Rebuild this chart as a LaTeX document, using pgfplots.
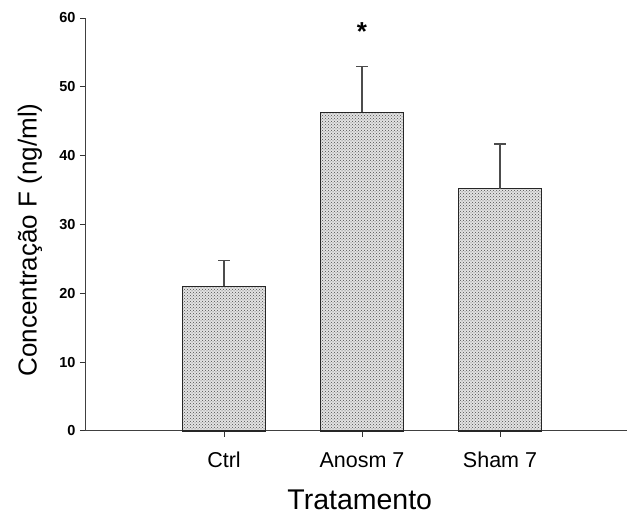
\documentclass[border=0pt]{standalone}
\usepackage{pgfplots}
\pgfplotsset{compat=1.18}
\usepackage{fontspec}
\setmainfont{Liberation Sans}
\usetikzlibrary{patterns}
\begin{document}
\begin{tikzpicture}
\path[use as bounding box] (-86pt,-88pt) rectangle (541pt,431pt);
\begin{axis}[
  scale only axis, width=541pt, height=413pt,
  at={(0,0)}, anchor=south west,
  xmin=0, xmax=3.92, ymin=0, ymax=60,
  axis x line=bottom, axis y line=left,
  axis line style={black!75, line width=1pt, -},
  xtick={1,2,3}, xticklabels={Ctrl,Anosm 7,Sham 7},
  ytick={0,10,...,60},
  tick align=outside, major tick length=6pt,
  tick style={black!80, line width=1pt},
  /pgf/number format/assume math mode=true,
  yticklabel style={font=\fontsize{14.5}{16}\selectfont\bfseries, xshift=-1pt},
  xticklabel style={font=\fontsize{21.5}{24}\selectfont, anchor=base, text height=16pt, text depth=5pt, yshift=-31pt},
  xlabel={Tratamento},
  ylabel={Concentração F (ng/ml)},
  xlabel style={font=\fontsize{28.5}{30}\selectfont, at={(axis description cs:0.506,-0.167)}, anchor=center},
  ylabel style={font=\fontsize{26}{28}\selectfont, at={(axis description cs:-0.1035,0.4625)}, anchor=center},
  clip=false,
]
\addplot[ybar, bar width=83pt, draw=black!85, line width=1.2pt,
  fill=gray!22, postaction={pattern=crosshatch dots, pattern color=black!70},
  error bars/.cd, y dir=plus, y explicit,
  error bar style={line width=1.2pt, black!70},
  error mark options={rotate=90, mark size=6pt, line width=1.2pt, black!70}]
  coordinates {(1,21.0) +- (0,3.75) (2,46.3) +- (0,6.7) (3,35.2) +- (0,6.5)};
\node[font=\fontsize{26}{28}\selectfont\bfseries] at (axis cs:2,58.0) {*};
\end{axis}
\end{tikzpicture}
\end{document}
